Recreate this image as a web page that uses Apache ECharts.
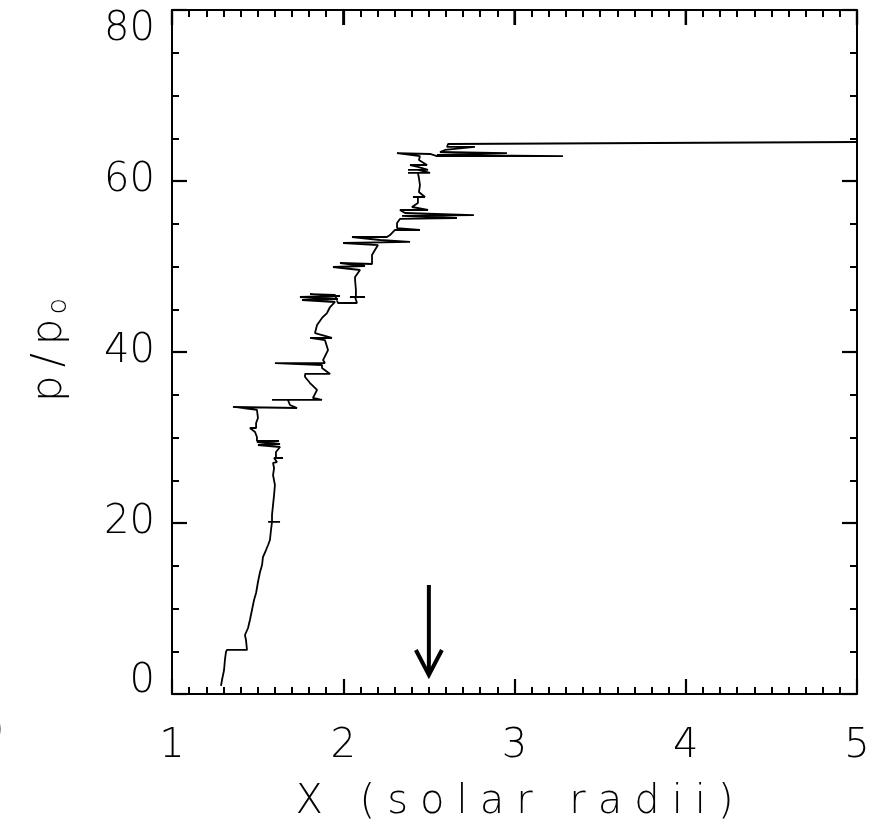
<!DOCTYPE html>
<html>
<head>
<meta charset="utf-8">
<script src="https://cdn.jsdelivr.net/npm/echarts@6/dist/echarts.min.js"></script>
<style>html,body{margin:0;padding:0;background:#fff}#c{width:885px;height:834px}</style>
</head>
<body>
<div id="c"></div>
<script>
// Trajectory: position X (solar radii) vs momentum p/p0, in path order
var xVals = [1.286,1.292,1.304,1.309,1.315,1.321,1.438,1.432,1.426,1.444,1.455,1.467,1.479,1.491,1.502,1.514,1.526,1.531,1.549,1.561,1.572,1.578,1.584,1.561,1.631,1.584,1.584,1.590,1.596,1.601,1.590,1.596,1.590,1.613,1.596,1.648,1.607,1.607,1.631,1.502,1.631,1.496,1.625,1.496,1.496,1.485,1.455,1.491,1.491,1.502,1.496,1.356,1.730,1.689,1.677,1.584,1.876,1.823,1.847,1.806,1.777,1.777,1.923,1.876,1.876,1.601,1.893,1.882,1.911,1.893,1.806,1.934,1.835,1.847,1.876,1.905,1.923,1.952,1.759,1.969,1.747,1.981,1.806,1.952,1.969,2.080,2.069,2.039,2.127,2.074,2.074,2.069,2.069,2.098,1.940,2.127,1.981,2.168,2.168,2.185,2.203,1.999,2.390,2.215,2.051,2.255,2.273,2.302,2.448,2.314,2.314,2.331,2.664,2.343,2.763,2.361,2.331,2.495,2.401,2.436,2.436,2.407,2.477,2.442,2.448,2.442,2.436,2.378,2.507,2.436,2.378,2.495,2.436,2.390,2.489,2.442,2.448,2.314,2.507,2.547,3.283,2.547,2.956,2.565,2.594,2.769,2.606,2.612,2.623,5.000];
var pVals = [0.94,1.64,2.81,3.98,4.91,5.15,5.15,6.32,6.90,7.72,8.65,9.82,10.99,11.81,13.10,14.27,15.09,16.02,16.84,17.43,18.01,19.18,20.12,20.12,20.12,20.12,20.94,22.11,23.27,24.44,25.61,26.43,27.02,27.13,27.60,27.60,27.60,28.30,28.89,29.12,29.24,29.47,29.59,29.59,30.06,30.64,31.11,31.11,31.70,32.28,33.22,33.57,33.45,33.80,34.39,34.39,34.39,34.62,35.56,36.37,37.08,37.43,37.43,38.13,38.48,38.71,38.71,39.06,40.23,41.40,41.64,41.64,42.22,43.16,43.98,44.56,45.26,45.85,46.08,46.20,46.43,46.55,46.78,46.67,45.73,45.73,46.43,46.43,46.43,46.43,47.25,48.42,48.77,49.59,49.94,50.06,50.41,50.29,51.35,51.93,52.51,52.75,52.87,53.10,53.45,53.45,53.68,54.27,54.27,54.50,55.09,55.56,55.67,55.91,56.02,56.26,56.61,56.61,56.96,57.43,58.13,58.13,58.13,58.71,59.53,60.35,60.94,60.94,60.94,61.29,61.29,61.29,61.64,61.87,61.87,62.46,62.92,63.27,63.16,62.92,62.92,63.04,63.27,63.39,63.63,63.98,63.98,64.33,64.56,64.56];
// Arrow marker: x position, p at tail, p at head
var arrowX = [2.5];
var arrowTop = [12.75];
var arrowBottom = [2.22];
var xTicks = [1, 2, 3, 4, 5];
var yTicks = [0, 20, 40, 60, 80];
var xTitle = 'X (solar radii)';

var FONT = 'DejaVu Sans';
var lineData = xVals.map(function (x, i) { return [x, pVals[i]]; });
var arrowData = arrowX.map(function (x, i) { return [x, arrowTop[i], arrowBottom[i]]; });
var yMax = yTicks[yTicks.length - 1];
var topTickData = xTicks.map(function (x) { return [x, yMax]; });

function spaced(str) {
  return str.split('').map(function (ch) { return '{c|' + ch + '}'; }).join('');
}

var chart = echarts.init(document.getElementById('c'), null, { renderer: 'canvas' });
function axisBase(extra, minorSplit) {
  return Object.assign({
    axisLine: { show: true, onZero: false, lineStyle: { color: '#000', width: 2 } },
    axisTick: { show: true, inside: true, length: 15, interval: 0, lineStyle: { color: '#000', width: 2.2 } },
    minorTick: { show: true, splitNumber: minorSplit, length: 7, lineStyle: { color: '#000', width: 2 } },
    splitLine: { show: false },
    minorSplitLine: { show: false }
  }, extra);
}
chart.setOption({
  animation: false,
  backgroundColor: '#fff',
  grid: { left: 172, right: 28, top: 10, bottom: 140, containLabel: false },
  xAxis: [
    axisBase({
      type: 'value', min: xTicks[0], max: xTicks[xTicks.length - 1], interval: 1, position: 'bottom',
      axisLabel: { color: '#000', fontFamily: FONT, fontWeight: 200, fontSize: 40, margin: 33 },
      name: spaced(xTitle), nameLocation: 'middle', nameGap: 89,
      nameTextStyle: { color: '#000', rich: { c: { fontFamily: FONT, fontWeight: 200, fontSize: 40, color: '#000', padding: [0, 6] } } }
    }, 10),
    axisBase({
      type: 'value', min: xTicks[0], max: xTicks[xTicks.length - 1], interval: 1, position: 'top',
      axisLabel: { show: false }
    }, 10)
  ],
  yAxis: [
    axisBase({
      type: 'value', min: yTicks[0], max: yMax, interval: 20, position: 'left',
      axisLabel: { color: '#000', fontFamily: FONT, fontWeight: 200, fontSize: 40, margin: 17,
        verticalAlignMaxLabel: 'top',
        formatter: function (v) { return v === yTicks[0] ? '{z|' + v + '}' : String(v); },
        rich: { z: { fontFamily: FONT, fontWeight: 200, fontSize: 40, color: '#000', padding: [0, 0, 24, 0] } } },
      name: '{a|p}{a|/}{a|p}{b|o}', nameLocation: 'middle', nameGap: 100, nameRotate: 90,
      nameTextStyle: { color: '#000', rich: {
        a: { fontFamily: FONT, fontWeight: 200, fontSize: 42, color: '#000', padding: [0, 4] },
        b: { fontFamily: FONT, fontWeight: 200, fontSize: 27, color: '#000', padding: [16, 0, 0, 0] }
      } }
    }, 4),
    axisBase({
      type: 'value', min: yTicks[0], max: yMax, interval: 20, position: 'right',
      axisLabel: { show: false }
    }, 4)
  ],
  graphic: [{ type: 'text', left: -11, top: 712, style: { text: ')', font: '200 40px "DejaVu Sans"', fill: '#000' } }],
  series: [
    {
      type: 'line', xAxisIndex: 0, yAxisIndex: 0, data: lineData, showSymbol: false, symbol: 'none',
      lineStyle: { color: '#000', width: 1.8 }, clip: true, silent: true
    },
    {
      type: 'custom', xAxisIndex: 0, yAxisIndex: 0, data: arrowData, silent: true,
      renderItem: function (params, api) {
        var top = api.coord([api.value(0), api.value(1)]);
        var bot = api.coord([api.value(0), api.value(2)]);
        return { type: 'group', children: [
          { type: 'line', shape: { x1: top[0], y1: top[1], x2: bot[0], y2: bot[1] - 2 }, style: { stroke: '#000', lineWidth: 4 } },
          { type: 'polyline', shape: { points: [[bot[0] - 13, bot[1] - 25], [bot[0], bot[1]], [bot[0] + 13, bot[1] - 25]] },
            style: { stroke: '#000', lineWidth: 4, fill: null, lineJoin: 'miter' } }
        ] };
      }
    },
    {
      // major ticks along the top frame edge
      type: 'custom', xAxisIndex: 0, yAxisIndex: 0, data: topTickData, silent: true, z: 10,
      renderItem: function (params, api) {
        var pt = api.coord([api.value(0), api.value(1)]);
        return { type: 'line', shape: { x1: pt[0], y1: pt[1], x2: pt[0], y2: pt[1] + 15 }, style: { stroke: '#000', lineWidth: 2.2 } };
      }
    }
  ]
});
</script>
</body>
</html>
